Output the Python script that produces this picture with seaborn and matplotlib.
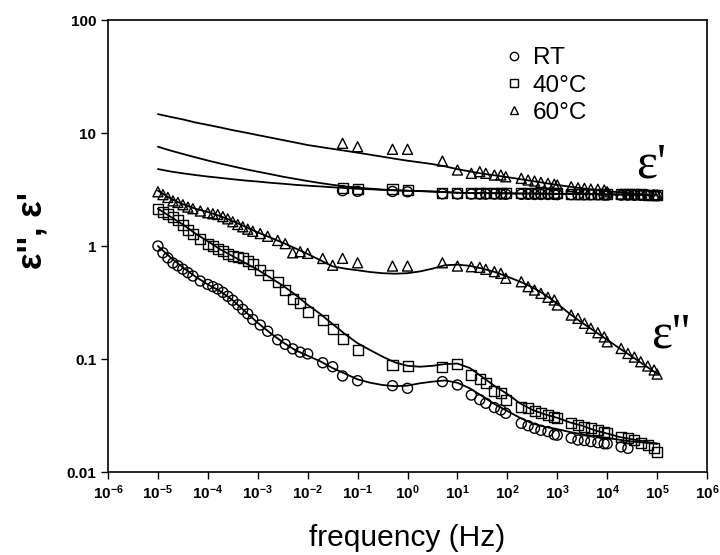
import seaborn as sns
import matplotlib.pyplot as plt
import pandas as pd
from matplotlib.lines import Line2D

sns.set_style('ticks')
plt.rcParams['font.family'] = ['Liberation Sans', 'DejaVu Sans']
plt.rcParams['mathtext.fontset'] = 'custom'
plt.rcParams['mathtext.bf'] = 'Liberation Sans:bold'
plt.rcParams['mathtext.rm'] = 'Liberation Sans'
for key in ['text.color', 'axes.labelcolor', 'xtick.color', 'ytick.color', 'axes.edgecolor']:
    plt.rcParams[key] = 'black'

# ---- measured points ----
# low frequency sweep (eps'' only)
f_lo = [1e-5, 1.26e-5, 1.58e-5, 2e-5, 2.51e-5, 3.16e-5, 3.98e-5, 5.01e-5, 7.08e-5,
        1e-4, 1.26e-4, 1.58e-4, 2e-4, 2.51e-4, 3.16e-4, 3.98e-4, 5.01e-4, 6.31e-4, 7.94e-4,
        1.12e-3, 1.58e-3, 2.51e-3, 3.55e-3, 5.01e-3, 7.08e-3, 0.01, 0.02, 0.0316]
rt_e2_lo = [1.0, 0.871, 0.785, 0.708, 0.668, 0.624, 0.582, 0.543, 0.49, 0.457, 0.437, 0.417,
            0.389, 0.359, 0.331, 0.302, 0.275, 0.251, 0.224, 0.2, 0.176, 0.148, 0.135, 0.123,
            0.115, 0.111, 0.0927, 0.0855]
c40_e2_lo = [2.14, 2.02, 1.93, 1.82, 1.70, 1.55, 1.40, 1.29, 1.15, 1.05, 1.0, 0.944, 0.902,
             0.851, 0.822, 0.804, 0.776, 0.733, 0.692, 0.617, 0.55, 0.479, 0.407, 0.339,
             0.316, 0.263, 0.221, 0.186]
c60_e2_lo = [3.02, 2.85, 2.69, 2.51, 2.43, 2.32, 2.21, 2.14, 2.04, 1.97, 1.93, 1.90, 1.82,
             1.74, 1.64, 1.55, 1.48, 1.41, 1.35, 1.29, 1.22, 1.12, 1.05, 0.871, 0.891, 0.861,
             0.776, 0.676]

# high frequency sweep (eps' and eps'')
f_hi = [0.05, 0.1, 0.5, 1, 5, 10, 19, 28, 37, 55, 74, 93, 190, 260, 350, 470, 650, 870,
        1000, 1900, 2600, 3500, 4700, 6500, 8700, 10000, 19000, 26000, 35000, 47000, 65000,
        87000, 100000]
rt_e2_hi = [0.0708, 0.0643, 0.0581, 0.0551, 0.0631, 0.0589, 0.048, 0.0437, 0.0406, 0.0372,
            0.0354, 0.0331, 0.027, 0.0257, 0.0244, 0.0234, 0.0228, 0.0214, 0.0212, 0.02,
            0.0192, 0.019, 0.0186, 0.0182, 0.0178, 0.0178, 0.0167, 0.0162]
c40_e2_hi = [0.149, 0.12, 0.0885, 0.0867, 0.0855, 0.0904, 0.0721, 0.0661, 0.061, 0.0525,
             0.0497, 0.0437, 0.0378, 0.0366, 0.0347, 0.033, 0.0319, 0.0309, 0.0299, 0.027,
             0.0261, 0.0252, 0.0243, 0.0235, 0.0228, 0.022, 0.0205, 0.02, 0.0191, 0.0182,
             0.0174, 0.0162, 0.0151]
c60_e2_hi = [0.778, 0.711, 0.665, 0.665, 0.711, 0.665, 0.656, 0.647, 0.622, 0.593, 0.573,
             0.518, 0.483, 0.437, 0.408, 0.381, 0.352, 0.333, 0.301, 0.245, 0.229, 0.207,
             0.187, 0.171, 0.157, 0.142, 0.124, 0.112, 0.104, 0.0946, 0.0867, 0.08, 0.0736]
rt_e1_hi = [3.09, 3.05, 3.04, 3.02, 2.9, 2.89, 2.88, 2.88, 2.88, 2.88, 2.88, 2.87, 2.87, 2.87,
            2.86, 2.86, 2.86, 2.86, 2.85, 2.85, 2.85, 2.84, 2.84, 2.84, 2.83, 2.83, 2.82, 2.82,
            2.81, 2.81, 2.8, 2.8, 2.79]
c40_e1_hi = [3.28, 3.19, 3.18, 3.13, 2.95, 2.94, 2.93, 2.93, 2.93, 2.93, 2.93, 2.93, 2.92,
             2.92, 2.92, 2.92, 2.92, 2.92, 2.92, 2.91, 2.91, 2.91, 2.91, 2.9, 2.9, 2.9, 2.89,
             2.88, 2.87, 2.86, 2.85, 2.84, 2.83]
c60_e1_hi = [8.11, 7.57, 7.18, 7.18, 5.65, 4.71, 4.4, 4.55, 4.4, 4.25, 4.25, 4.1, 3.97, 3.84,
             3.76, 3.66, 3.59, 3.52, 3.47, 3.35, 3.28, 3.24, 3.19, 3.18, 3.13, 3.02, 2.88,
             2.88, 2.87, 2.86, 2.85, 2.85, 2.83]

# ---- fitted curves ----
f_fit = [1e-5, 1.78e-5, 3.16e-5, 5.62e-5, 1e-4, 1.78e-4, 3.16e-4, 5.62e-4, 1e-3, 1.78e-3,
         3.16e-3, 5.62e-3, 0.01, 0.0178, 0.0316, 0.0562, 0.1, 0.178, 0.316, 0.562, 1, 1.78,
         3.16, 5.62, 10, 17.8, 31.6, 56.2, 100, 178, 316, 562, 1000, 1780, 3160, 5620,
         1e4, 1.78e4, 3.16e4, 5.62e4, 1e5]
fit_rt_e2 = [1.0, 0.794, 0.646, 0.537, 0.457, 0.398, 0.331, 0.263, 0.209, 0.17, 0.141, 0.12,
             0.107, 0.0955, 0.0832, 0.0741, 0.0661, 0.0617, 0.0589, 0.0575, 0.0582, 0.061,
             0.0631, 0.0646, 0.0617, 0.055, 0.0468, 0.0398, 0.0347, 0.0302, 0.0269, 0.0251,
             0.024, 0.0226, 0.0216, 0.0207, 0.02, 0.0193, 0.0186, 0.0182, 0.0178]
fit_40_e2 = [2.14, 1.82, 1.55, 1.29, 1.10, 0.933, 0.813, 0.708, 0.617, 0.525, 0.447, 0.372,
             0.302, 0.251, 0.204, 0.166, 0.138, 0.12, 0.105, 0.0933, 0.0871, 0.0855, 0.0871,
             0.0902, 0.0912, 0.0832, 0.0692, 0.0575, 0.049, 0.0407, 0.0355, 0.0324, 0.0302,
             0.0275, 0.0257, 0.0234, 0.0219, 0.0204, 0.0195, 0.0186, 0.0178]
fit_60_e2 = [3.09, 2.63, 2.34, 2.14, 2.0, 1.84, 1.66, 1.48, 1.32, 1.19, 1.07, 0.955, 0.851,
             0.75, 0.661, 0.631, 0.61, 0.589, 0.575, 0.569, 0.575, 0.596, 0.631, 0.676, 0.684,
             0.668, 0.631, 0.589, 0.537, 0.484, 0.432, 0.372, 0.309, 0.251, 0.209, 0.176,
             0.148, 0.124, 0.105, 0.0881, 0.0741]
fit_rt_e1 = [4.8, 4.57, 4.4, 4.25, 4.12, 4.01, 3.9, 3.8, 3.72, 3.63, 3.56, 3.48, 3.42, 3.37,
             3.31, 3.26, 3.21, 3.18, 3.14, 3.11, 3.08, 3.06, 3.03, 3.0, 2.96, 2.94, 2.93, 2.93,
             2.92, 2.91, 2.91, 2.9, 2.89, 2.89, 2.88, 2.87, 2.86, 2.85, 2.84, 2.83, 2.81]
fit_40_e1 = [7.57, 7.0, 6.53, 6.1, 5.71, 5.37, 5.07, 4.79, 4.55, 4.33, 4.11, 3.93, 3.76, 3.61,
             3.48, 3.37, 3.29, 3.22, 3.16, 3.12, 3.09, 3.07, 3.04, 3.0, 2.96, 2.95, 2.94, 2.94,
             2.93, 2.92, 2.92, 2.91, 2.9, 2.9, 2.89, 2.88, 2.87, 2.86, 2.85, 2.84, 2.82]
fit_60_e1 = [14.7, 13.9, 13.2, 12.4, 11.8, 11.2, 10.6, 10.1, 9.59, 9.12, 8.67, 8.24, 7.83,
             7.53, 7.24, 6.97, 6.70, 6.43, 6.17, 5.92, 5.69, 5.5, 5.31, 5.07, 4.79, 4.57, 4.37,
             4.22, 4.07, 3.91, 3.76, 3.61, 3.47, 3.35, 3.24, 3.14, 3.05, 2.99, 2.92, 2.86, 2.82]

labels = ['RT', '40°C', '60°C']
markers = ['o', 's', '^']

fig = plt.figure(figsize=(7.2, 5.55), dpi=100)
ax = fig.add_axes([0.15, 0.1495, 0.832, 0.8144])

# fitted lines
for fy in [fit_rt_e1, fit_40_e1, fit_60_e1, fit_rt_e2, fit_40_e2, fit_60_e2]:
    sns.lineplot(x=f_fit, y=fy, color='black', lw=1.3, ax=ax, estimator=None, sort=False)

# data points
pts = [(f_lo, rt_e2_lo, 'o'), (f_hi[:len(rt_e2_hi)], rt_e2_hi, 'o'), (f_hi, rt_e1_hi, 'o'),
       (f_lo, c40_e2_lo, 's'), (f_hi, c40_e2_hi, 's'), (f_hi, c40_e1_hi, 's'),
       (f_lo, c60_e2_lo, '^'), (f_hi, c60_e2_hi, '^'), (f_hi, c60_e1_hi, '^')]
for fx, fy, m in pts:
    sns.scatterplot(x=fx, y=fy, marker=m, s=52, facecolor='none', edgecolor='black',
                    linewidth=1.0, ax=ax, zorder=3)

ax.set_xscale('log')
ax.set_yscale('log')
ax.set_xlim(1e-6, 1e6)
ax.set_ylim(0.01, 100)
xt = list(range(-6, 7))
ax.set_xticks([10.0 ** k for k in xt], [r'$\mathbf{10^{%d}}$' % k for k in xt])
ax.set_yticks([0.01, 0.1, 1, 10, 100], ['0.01', '0.1', '1', '10', '100'])
ax.minorticks_off()
ax.tick_params(direction='out', length=5, width=1, labelsize=11, colors='black')
for lab in ax.get_yticklabels():
    lab.set_fontweight('bold')
for sp in ax.spines.values():
    sp.set_visible(True)
    sp.set_color('black')
    sp.set_linewidth(1.2)

handles = [Line2D([], [], ls='none', marker=m, ms=6, mfc='none', mec='black', mew=1)
           for m in markers]
ax.legend(handles, labels, loc='upper left', bbox_to_anchor=(0.662, 0.940), frameon=False,
          fontsize=17.5, handlelength=0.8, handletextpad=0.35, labelspacing=0.22,
          borderaxespad=0, borderpad=0)

fig.text(0.045, 0.584, "ε'', ε'", rotation=90, fontsize=25, fontweight='bold',
         ha='center', va='center')
fig.text(0.566, 0.031, 'frequency (Hz)', fontsize=21.5, ha='center', va='center')
fig.text(0.883, 0.681, "ε'", fontsize=36, family='Liberation Serif', ha='left', va='baseline')
fig.text(0.904, 0.373, "ε''", fontsize=36, family='Liberation Serif', ha='left', va='baseline')

fig.savefig('out.png', dpi=100)
